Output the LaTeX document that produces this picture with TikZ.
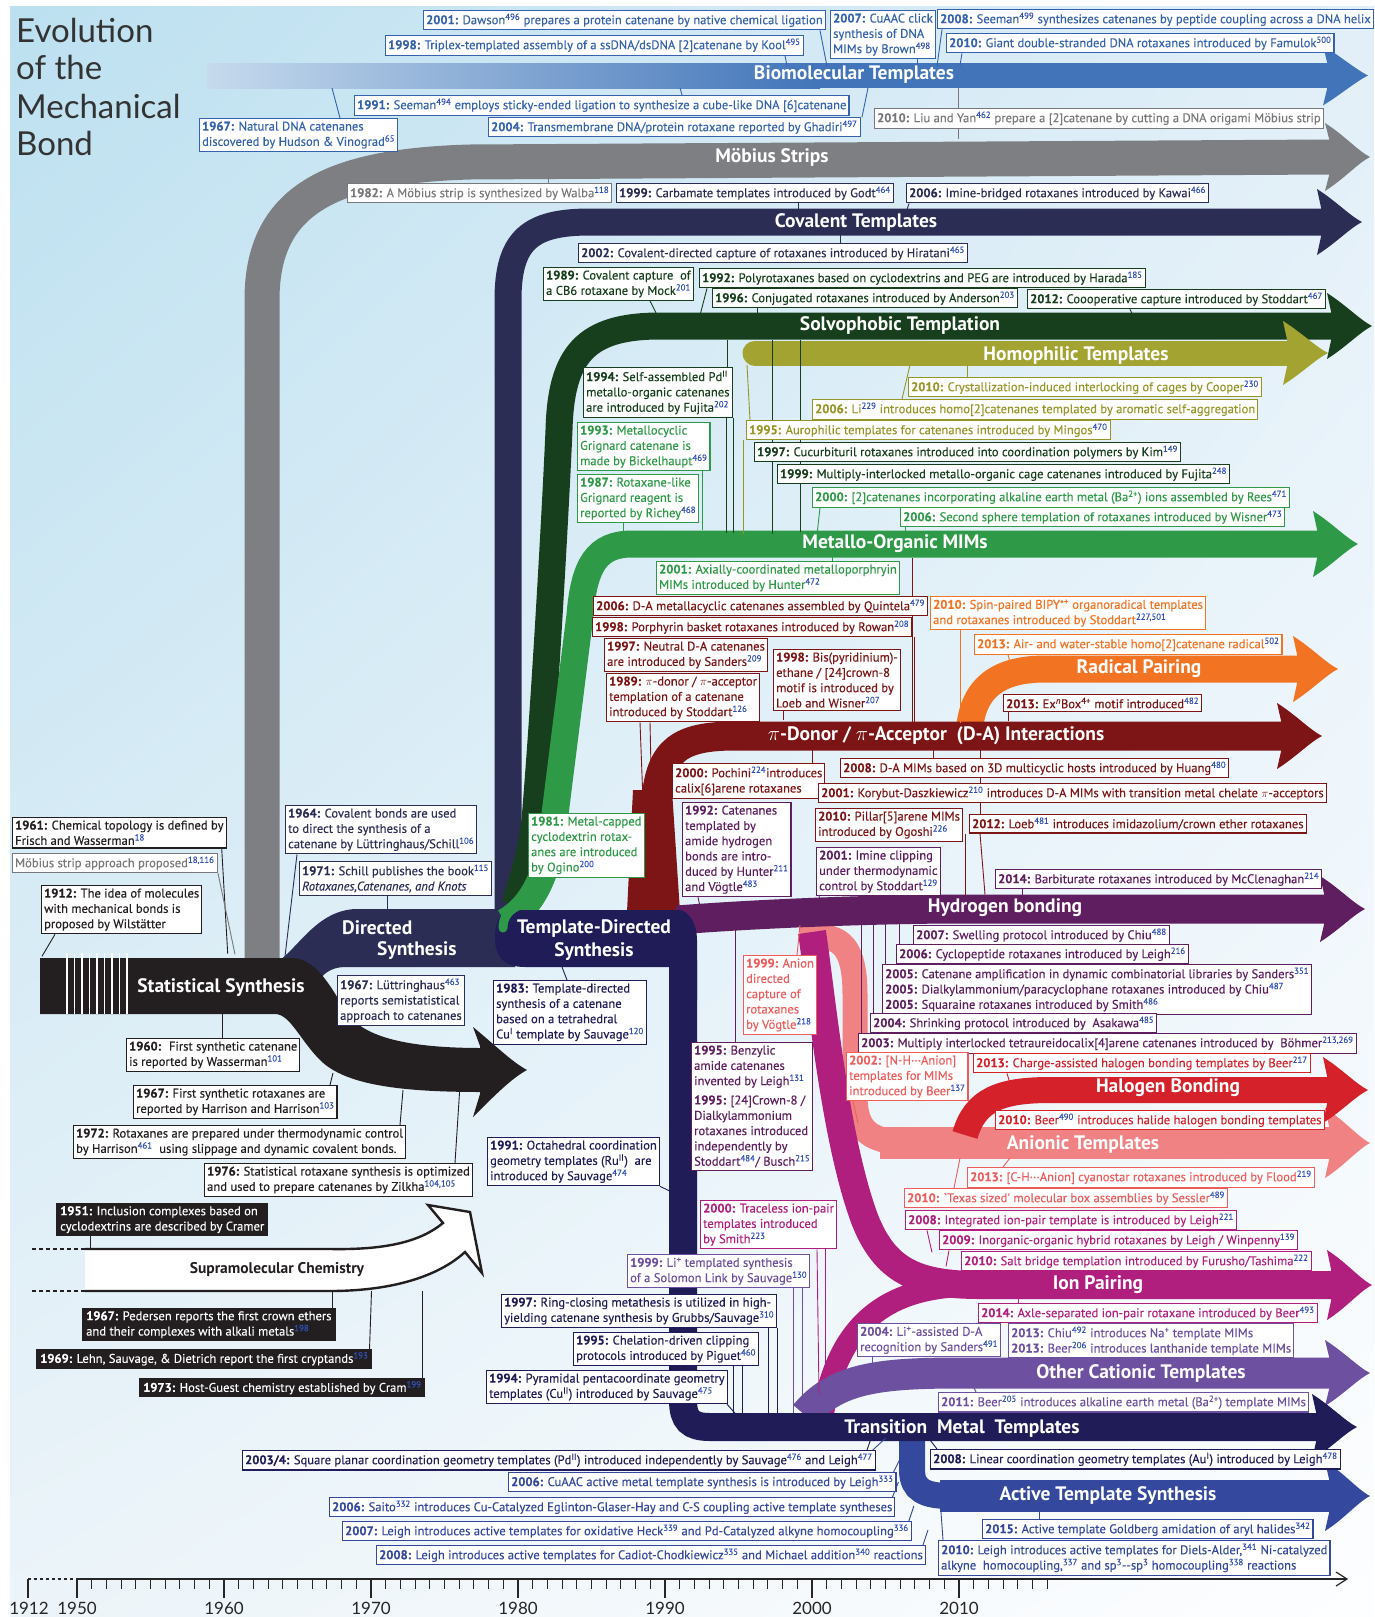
\documentclass[tikz,border=0pt]{standalone}
\usepackage{fontspec}
\setmainfont{PT Sans}
\newfontfamily\lblfam{PT Sans}[FakeBold=0.25]
\newfontfamily\titlefont{Lato}
\usetikzlibrary{calc,shadings}
\definecolor{bgA}{RGB}{188,224,240}
\definecolor{bgB}{RGB}{226,239,248}
\definecolor{bgC}{RGB}{236,244,249}
\definecolor{bgD}{RGB}{253,254,255}
\definecolor{bio}{RGB}{65,116,185}
\definecolor{bioL}{RGB}{198,218,237}
\definecolor{bioT}{RGB}{52,98,172}
\definecolor{mob}{RGB}{126,127,131}
\definecolor{mobT}{RGB}{120,120,124}
\definecolor{cov}{RGB}{43,45,85}
\definecolor{solv}{RGB}{23,63,29}
\definecolor{homo}{RGB}{163,163,50}
\definecolor{homoT}{RGB}{150,150,40}
\definecolor{met}{RGB}{46,154,72}
\definecolor{da}{RGB}{125,20,22}
\definecolor{rad}{RGB}{242,115,33}
\definecolor{hb}{RGB}{95,30,95}
\definecolor{hal}{RGB}{212,33,42}
\definecolor{an}{RGB}{240,130,131}
\definecolor{anT}{RGB}{238,92,92}
\definecolor{ion}{RGB}{176,31,126}
\definecolor{oc}{RGB}{109,80,160}
\definecolor{tm}{RGB}{31,28,88}
\definecolor{act}{RGB}{52,72,157}
\definecolor{statc}{RGB}{35,31,32}
\definecolor{refc}{RGB}{50,80,185}
\newcommand\lf{\lblfam\fontsize{12.6}{15.3}\selectfont}
\newcommand\bandf{\bfseries\fontsize{19.5}{23}\selectfont}
\newcommand\yr[1]{\textbf{#1:}}
\newcommand\rf[1]{\textsuperscript{\color{refc}#1}}
\newcommand\ahead[5]{\fill[#1] ({#2-41},{#3-#4}) -- ({#2-45},{#3-#5}) .. controls ({#2-26},{#3-#5+12}) and ({#2-12},{#3-6}) .. (#2,#3) .. controls ({#2-12},{#3+6}) and ({#2-26},{#3+#5-12}) .. ({#2-45},{#3+#5}) -- ({#2-41},{#3+#4}) -- cycle;}
\newcommand\tail[4]{\draw[tl=#1] ([xshift=#3pt]#2) -- ++#4;}
\pgfdeclarelayer{bandlayer}
\pgfdeclarelayer{taillayer}
\pgfsetlayers{bandlayer,taillayer,main}
\tikzset{
  lbl/.style={draw=#1, text=#1, fill=white, line width=1.1pt, inner xsep=2.6pt, inner ysep=3pt, align=left, anchor=north west, font=\lf},
  blk/.style={fill=statc, text=white, inner xsep=4pt, inner ysep=3pt, align=left, anchor=north west, font=\lf},
  tl/.style={draw=#1, line width=0.9pt},
  bandtxt/.style={text=white, font=\bandf, inner sep=0pt},
}
\begin{document}
\begin{tikzpicture}[x=1pt,y=-1pt]
\useasboundingbox (0,0) rectangle (1374,1617);
\begin{pgfonlayer}{bandlayer}
\fill[white] (0,0) rectangle (1374,1617);
\shade[upper left=bgA, upper right=bgB, lower left=bgC, lower right=bgD] (10,6) rectangle (1374,1617);
% Biomolecular
\shade[left color=bioL, right color=bio] (207,63) rectangle (820,88);
\fill[bio] (819,63) rectangle (1328,88);
\ahead{bio}{1368}{75.5}{13.5}{30}
% Mobius
\draw[mob, line width=35] (262,960) -- (262,300) .. controls (262,200) and (330,166) .. (470,162) -- (1330,157);
\ahead{mob}{1370}{157}{18.5}{34}
% Directed synthesis
\fill[cov] (280,960) .. controls (300,945) and (318,911) .. (355,909) -- (515,909) -- (515,967) -- (345,967) .. controls (330,967) and (322,975) .. (315,985) -- cycle;
% Statistical
\fill[statc] (40,958) -- (292,958) .. controls (315,958) and (330,985) .. (345,1010) .. controls (360,1035) and (400,1048) .. (482,1048) -- (482,1092) .. controls (400,1092) and (345,1085) .. (320,1060) .. controls (300,1040) and (290,1014) .. (275,1014) -- (40,1014) -- cycle;
\fill[statc] (480,1046) -- (473,1027) .. controls (495,1045) and (512,1062) .. (527,1070) .. controls (512,1078) and (495,1095) .. (473,1117) -- (480,1094) -- cycle;
\foreach \x in {67,74.5,82,89.5,97,104.5,112,119.5,127} \draw[white, line width=1.6] (\x,953) -- (\x,1014);
% Covalent
\draw[cov, line width=27] (508,935) -- (508,300) .. controls (508,240) and (530,222) .. (590,222) -- (1322,222);
\ahead{cov}{1362}{222}{14.5}{33}
% Solvophobic
\draw[solv, line width=27] (515,905) .. controls (522,880) and (530,860) .. (535,820) .. controls (545,700) and (556,500) .. (559,430) .. controls (561,355) and (585,326) .. (660,326) -- (1332,326);
\ahead{solv}{1372}{326}{14.5}{33}
% Homophilic
\draw[homo, line width=25, line cap=round] (755,353) -- (1290,353);
\ahead{homo}{1328}{353}{13.5}{32}
% Metallo-organic
\draw[met, line width=27] (505,922) .. controls (535,905) and (548,870) .. (553,830) -- (580,615) .. controls (584,565) and (597,544) .. (632,544) -- (1318,544);
\ahead{met}{1358}{544}{14.5}{33}
% Radical (drawn under D-A)
\draw[rad, line width=27] (969,735) .. controls (971,695) and (990,669) .. (1045,669) -- (1298,669);
\ahead{rad}{1338}{669}{14.5}{33}
% D-A
\fill[da] (627,912) -- (633,790) -- (672,790) -- (680,912) -- cycle;
\draw[da, line width=29] (650,915) -- (656,800) .. controls (660,750) and (680,736) .. (735,736) -- (1282,736);
\ahead{da}{1322}{736}{15.5}{33}
% Anionic
\draw[an, line width=25] (800,937) -- (822,937) .. controls (848,938) and (855,960) .. (855,995) -- (855,1095) .. controls (855,1132) and (870,1143) .. (915,1143);
\fill[an] (880,1127) rectangle (1330,1159);
\ahead{an}{1370}{1143}{17}{35}
% Ion pairing
\draw[ion, line width=28] (812,932) .. controls (822,1000) and (835,1140) .. (865,1220) .. controls (885,1270) and (915,1285) .. (980,1285) -- (1332,1285);
\draw[ion, line width=22] (822,1420) .. controls (835,1330) and (880,1290) .. (960,1286);
\ahead{ion}{1372}{1285}{16}{35}
% Hydrogen bonding
\draw[hb, line width=29] (677,920) .. controls (780,912) and (900,909) .. (960,909) -- (1325,909);
\ahead{hb}{1365}{909}{15.5}{33}
% Halogen
\draw[hal, line width=26] (965,1135) .. controls (975,1100) and (1000,1090) .. (1050,1090) -- (1328,1090);
\ahead{hal}{1368}{1090}{14}{33}
% Other cationic
\draw[oc, line width=31] (805,1415) .. controls (835,1378) and (880,1373) .. (960,1373) -- (1330,1373);
\ahead{oc}{1370}{1373}{16.5}{33}
% Active template
\draw[act, line width=26] (912,1435) -- (912,1470) .. controls (912,1490) and (925,1496) .. (950,1496);
\fill[act] (940,1480) rectangle (1330,1512);
\ahead{act}{1370}{1496}{17}{35}
% Transition metal
\draw[tm, line width=28] (683,960) -- (683,1400) .. controls (683,1420) and (690,1427) .. (710,1427) -- (1318,1427);
\ahead{tm}{1357}{1427}{15}{33}
% Template-directed blob
\fill[tm] (680,910) -- (520,910) .. controls (500,910) and (495,920) .. (495,938) .. controls (495,958) and (505,967) .. (525,967) -- (670,967) -- (670,1000) -- (697,1000) -- (697,940) .. controls (697,925) and (690,912) .. (680,910) -- cycle;
\draw[met, line width=9, line cap=round] (520,905) .. controls (508,910) and (503,918) .. (503,928);
% Supramolecular
\draw[statc, line width=2.4, fill=white, line join=miter] (85,1249) -- (330,1249) .. controls (385,1250) and (420,1242) .. (443,1223) -- (428,1205) -- (470,1212) -- (482,1273) -- (465,1252) .. controls (440,1275) and (395,1291) .. (330,1291) -- (85,1291);
\draw[statc, line width=2.5, dash pattern=on 4pt off 3pt] (32,1249) -- (85,1249);
\draw[statc, line width=2.5, dash pattern=on 4pt off 3pt] (32,1291) -- (85,1291);
% Axis
\draw[line width=1.2, black!85] (77,1579) -- (1347,1579);
\draw[line width=1.2, black!85, dashed] (28,1579) -- (77,1579);
\draw[line width=1.2, black!85] (1336,1572) -- (1347,1579) -- (1336,1586);
\foreach \yy in {1951,...,2016} \draw[line width=1, black!85] ({77+(\yy-1950)*14.7},1579) -- ++(0,10);
\foreach \yy in {1950,1960,...,2010} \draw[line width=2.4, black!85] ({77+(\yy-1950)*14.7},1579) -- ++(0,19);
\draw[line width=2.4, black!85] (28,1579) -- (28,1598);
\end{pgfonlayer}
% axis labels
\foreach \yy in {1950,1960,...,2010} \node[font=\titlefont\fontsize{17}{17}\selectfont, text=black!85, inner sep=0] (ax\yy) at ({77+(\yy-1950)*14.7},1608) {\yy};
\node[font=\titlefont\fontsize{17}{17}\selectfont, text=black!85, inner sep=0] (ax1912) at (29,1608) {1912};
% Title
\node[anchor=base west, font=\titlefont\fontsize{33}{38}\selectfont, text=black!80, inner sep=0] (ti1) at (16,42) {Evolution};
\node[anchor=base west, font=\titlefont\fontsize{33}{38}\selectfont, text=black!80, inner sep=0] (ti2) at (16,79) {of the};
\node[anchor=base west, font=\titlefont\fontsize{33}{38}\selectfont, text=black!80, inner sep=0] (ti3) at (16,118) {Mechanical};
\node[anchor=base west, font=\titlefont\fontsize{33}{38}\selectfont, text=black!80, inner sep=0] (ti4) at (16,155) {Bond};
% Band texts
\node[bandtxt] (nbio) at (854,75) {Biomolecular Templates};
\node[bandtxt] (nmob) at (772,157) {Möbius Strips};
\node[bandtxt] (ncov) at (856,222) {Covalent Templates};
\node[bandtxt] (nsolv) at (900,325) {Solvophobic Templation};
\node[bandtxt] (nhomo) at (1076,356) {Homophilic Templates};
\node[bandtxt] (nmet) at (895,544) {Metallo-Organic MIMs};
\node[bandtxt] (nrad) at (1139,669) {Radical Pairing};
\node[bandtxt] (nda) at (936,736) {$\pi$-Donor / $\pi$-Acceptor~ (D-A) Interactions};
\node[bandtxt] (nhb) at (1005,908) {Hydrogen bonding};
\node[bandtxt] (nhal) at (1168,1088) {Halogen Bonding};
\node[bandtxt] (nan) at (1083,1145) {Anionic Templates};
\node[bandtxt] (nion) at (1098,1285) {Ion Pairing};
\node[bandtxt] (noc) at (1141,1373) {Other Cationic Templates};
\node[bandtxt] (ntm) at (962,1428) {Transition~ Metal~ Templates};
\node[bandtxt] (nact) at (1108,1496) {Active Template Synthesis};
\node[bandtxt] (nstat) at (221,988) {Statistical Synthesis};
\node[bandtxt, anchor=west] (ndir1) at (342,928) {Directed};
\node[bandtxt, anchor=west] (ndir2) at (377,951) {Synthesis};
\node[bandtxt, align=center, font=\bfseries\fontsize{19.5}{23}\selectfont] (ntds) at (594,940) {Template-Directed\\Synthesis};
\node[font=\bfseries\fontsize{15.5}{18}\selectfont, text=statc, inner sep=0] (nsup) at (277,1270) {Supramolecular Chemistry};
% ---------- Labels ----------
\node[lbl=bioT] (b2001) at (423,10) {\yr{2001} Dawson\rf{496} prepares a protein catenane by native chemical ligation};
\node[lbl=bioT] (b1998) at (385,35) {\yr{1998} Triplex-templated assembly of a ssDNA/dsDNA [2]catenane by Kool\rf{495}};
\node[lbl=bioT] (b2007) at (830,10) {\yr{2007} CuAAC click\\synthesis of DNA\\MIMs by Brown\rf{498}};
\node[lbl=bioT] (b2008) at (937,9) {\yr{2008} Seeman\rf{499} synthesizes catenanes by peptide coupling across a DNA helix};
\node[lbl=bioT] (b2010) at (946,33) {\yr{2010} Giant double-stranded DNA rotaxanes introduced by Famulok\rf{500}};
\node[lbl=bioT] (b1991) at (354,95) {\yr{1991} Seeman\rf{494} employs sticky-ended ligation to synthesize a cube-like DNA [6]catenane};
\node[lbl=bioT] (b1967) at (199,118) {\yr{1967} Natural DNA catenanes\\discovered by Hudson \& Vinograd\rf{65}};
\node[lbl=bioT] (b2004) at (488,117) {\yr{2004} Transmembrane DNA/protein rotaxane reported by Ghadiri\rf{497}};
\node[lbl=mobT] (g2010) at (874,108) {\yr{2010} Liu and Yan\rf{462} prepare a [2]catenane by cutting a DNA origami Möbius strip};
\node[lbl=mobT] (g1982) at (347,183) {\yr{1982} A Möbius strip is synthesized by Walba\rf{118}};
\node[lbl=cov] (c1999) at (616,183) {\yr{1999} Carbamate templates introduced by Godt\rf{464}};
\node[lbl=cov] (c2006) at (906,183) {\yr{2006} Imine-bridged rotaxanes introduced by Kawai\rf{466}};
\node[lbl=cov] (c2002) at (578,243) {\yr{2002} Covalent-directed capture of rotaxanes introduced by Hiratani\rf{465}};
\node[lbl=cov] (c1964) at (285,805) {\yr{1964} Covalent bonds are used\\to direct the synthesis of a\\catenane by Lüttringhaus/Schill\rf{106}};
\node[lbl=cov] (c1971) at (299,861) {\yr{1971} Schill publishes the book\rf{115}\\\textit{Rotaxanes,Catenanes, and Knots}};
\node[lbl=cov] (c1967) at (337,975) {\yr{1967} Lüttringhaus\rf{463}\\reports semistatistical\\approach to catenanes};
\node[lbl=solv] (s1989) at (543,267) {\yr{1989} Covalent capture~ of\\a CB6 rotaxane by Mock\rf{201}};
\node[lbl=solv] (s1992) at (699,268) {\yr{1992} Polyrotaxanes based on cyclodextrins and PEG are introduced by Harada\rf{185}};
\node[lbl=solv] (s1996) at (712,288) {\yr{1996} Conjugated rotaxanes introduced by Anderson\rf{203}};
\node[lbl=solv] (s2012) at (1027,289) {\yr{2012} Coooperative capture introduced by Stoddart\rf{467}};
\node[lbl=solv] (s1994) at (583,367) {\yr{1994} Self-assembled Pd\textsuperscript{II}\\metallo-organic catenanes\\are introduced by Fujita\rf{202}};
\node[lbl=solv] (s1997) at (754,442) {\yr{1997} Cucurbituril rotaxanes introduced into coordination polymers by Kim\rf{149}};
\node[lbl=solv] (s1999) at (777,464) {\yr{1999} Multiply-interlocked metallo-organic cage catenanes introduced by Fujita\rf{248}};
\node[lbl=homoT] (o2010) at (908,377) {\yr{2010} Crystallization-induced interlocking of cages by Cooper\rf{230}};
\node[lbl=homoT] (o2006) at (812,399) {\yr{2006} Li\rf{229} introduces homo[2]catenanes templated by aromatic self-aggregation};
\node[lbl=homoT] (o1995) at (746,420) {\yr{1995} Aurophilic templates for catenanes introduced by Mingos\rf{470}};
\node[lbl=met] (m1993) at (577,422) {\yr{1993} Metallocyclic\\Grignard catenane is\\made by Bickelhaupt\rf{469}};
\node[lbl=met] (m1987) at (577,474) {\yr{1987} Rotaxane-like\\Grignard reagent is\\reported by Richey\rf{468}};
\node[lbl=met] (m2000) at (812,487) {\yr{2000} [2]catenanes incorporating alkaline earth metal (Ba\textsuperscript{2+}) ions assembled by Rees\rf{471}};
\node[lbl=met] (m2006) at (900,507) {\yr{2006} Second sphere templation of rotaxanes introduced by Wisner\rf{473}};
\node[lbl=met] (m2001) at (656,561) {\yr{2001} Axially-coordinated metalloporphryin\\MIMs introduced by Hunter\rf{472}};
\node[lbl=met] (m1981) at (528,813) {\yr{1981} Metal-capped\\cyclodextrin rotax-\\anes are introduced\\by Ogino\rf{200}};
\node[lbl=da] (d2006) at (593,596) {\yr{2006} D-A metallacyclic catenanes assembled by Quintela\rf{479}};
\node[lbl=da] (d1998a) at (592,617) {\yr{1998} Porphyrin basket rotaxanes introduced by Rowan\rf{208}};
\node[lbl=da] (d1997) at (604,638) {\yr{1997} Neutral D-A catenanes\\are introduced by Sanders\rf{209}};
\node[lbl=da] (d1989) at (606,673) {\yr{1989} $\pi$-donor / $\pi$-acceptor\\templation of a catenane\\introduced by Stoddart\rf{126}};
\node[lbl=da] (d1998b) at (773,649) {\yr{1998} Bis(pyridinium)-\\ethane / [24]crown-8\\motif is introduced by\\Loeb and Wisner\rf{207}};
\node[lbl=da] (d2013) at (1003,694) {\yr{2013} Ex\textsuperscript{\textit{n}}Box\textsuperscript{4+} motif introduced\rf{482}};
\node[lbl=da] (d2000) at (672,763) {\yr{2000} Pochini\rf{224}introduces\\calix[6]arene rotaxanes};
\node[lbl=da] (d2008) at (840,758) {\yr{2008} D-A MIMs based on 3D multicyclic hosts introduced by Huang\rf{480}};
\node[lbl=da] (d2001) at (818,783) {\yr{2001} Korybut-Daszkiewicz\rf{210} introduces D-A MIMs with transition metal chelate $\pi$-acceptors};
\node[lbl=da] (d2010) at (815,808) {\yr{2010} Pillar[5]arene MIMs\\introduced by Ogoshi\rf{226}};
\node[lbl=da] (d2012) at (969,814) {\yr{2012} Loeb\rf{481} introduces imidazolium/crown ether rotaxanes};
\node[lbl=rad] (r2010) at (930,596) {\yr{2010} Spin-paired BIPY\textsuperscript{\textbullet+} organoradical templates\\and rotaxanes introduced by Stoddart\rf{227,501}};
\node[lbl=rad] (r2013) at (974,634) {\yr{2013} Air- and water-stable homo[2]catenane radical\rf{502}};
\node[lbl=hb] (h1992) at (682,802) {\yr{1992} Catenanes\\templated by\\amide hydrogen\\bonds are intro-\\duced by Hunter\rf{211}\\and Vögtle\rf{483}};
\node[lbl=hb] (h2001) at (816,847) {\yr{2001} Imine clipping\\under thermodynamic\\control by Stoddart\rf{129}};
\node[lbl=hb] (h2014) at (995,869) {\yr{2014} Barbiturate rotaxanes introduced by McClenaghan\rf{214}};
\node[lbl=hb] (h2007) at (913,925) {\yr{2007} Swelling protocol introduced by Chiu\rf{488}};
\node[lbl=hb] (h2006) at (896,944) {\yr{2006} Cyclopeptide rotaxanes introduced by Leigh\rf{216}};
\node[lbl=hb] (h2005) at (882,964) {\yr{2005} Catenane amplification in dynamic combinatorial libraries by Sanders\rf{351}\\\yr{2005} Dialkylammonium/paracyclophane rotaxanes introduced by Chiu\rf{487}\\\yr{2005} Squaraine rotaxanes introduced by Smith\rf{486}};
\node[lbl=hb] (h2004) at (870,1013) {\yr{2004} Shrinking protocol introduced by~ Asakawa\rf{485}};
\node[lbl=hb] (h2003) at (858,1033) {\yr{2003} Multiply interlocked tetraureidocalix[4]arene catenanes introduced by~ Böhmer\rf{213,269}};
\node[lbl=hb] (h1995) at (691,1042) {\yr{1995} Benzylic\\amide catenanes\\invented by Leigh\rf{131}\\[4pt]\yr{1995} [24]Crown-8 /\\Dialkylammonium\\rotaxanes introduced\\independently by\\Stoddart\rf{484}/ Busch\rf{215}};
\node[lbl=anT] (a1999) at (743,955) {\yr{1999} Anion\\directed\\capture of\\rotaxanes\\by Vögtle\rf{218}};
\node[lbl=anT] (a2002) at (846,1052) {\yr{2002} [N-H···Anion]\\templates for MIMs\\introduced by Beer\rf{137}};
\node[lbl=anT] (a2013) at (967,1167) {\yr{2013} [C-H···Anion] cyanostar rotaxanes introduced by Flood\rf{219}};
\node[lbl=anT] (a2010) at (904,1188) {\yr{2010} `Texas sized' molecular box assemblies by Sessler\rf{489}};
\node[lbl=hal] (x2013) at (973,1053) {\yr{2013} Charge-assisted halogen bonding templates by Beer\rf{217}};
\node[lbl=hal] (x2010) at (995,1110) {\yr{2010} Beer\rf{490} introduces halide halogen bonding templates};
\node[lbl=ion] (i2000) at (700,1200) {\yr{2000} Traceless ion-pair\\templates introduced\\by Smith\rf{223}};
\node[lbl=ion] (i2008) at (905,1210) {\yr{2008} Integrated ion-pair template is introduced by Leigh\rf{221}};
\node[lbl=ion] (i2009) at (939,1230) {\yr{2009} Inorganic-organic hybrid rotaxanes by Leigh / Winpenny\rf{139}};
\node[lbl=ion] (i2010) at (961,1251) {\yr{2010} Salt bridge templation introduced by Furusho/Tashima\rf{222}};
\node[lbl=ion] (i2014) at (978,1303) {\yr{2014} Axle-separated ion-pair rotaxane introduced by Beer\rf{493}};
\node[lbl=oc] (q1999) at (627,1254) {\yr{1999} Li\textsuperscript{+} templated synthesis\\of a Solomon Link by Sauvage\rf{130}};
\node[lbl=oc] (q2004) at (857,1323) {\yr{2004} Li\textsuperscript{+}-assisted D-A\\recognition by Sanders\rf{491}};
\node[lbl=oc] (q2013) at (1008,1323) {\yr{2013} Chiu\rf{492} introduces Na\textsuperscript{+} template MIMs\\\yr{2013} Beer\rf{206} introduces lanthanide template MIMs};
\node[lbl=oc] (q2011) at (938,1392) {\yr{2011} Beer\rf{205} introduces alkaline earth metal (Ba\textsuperscript{2+}) template MIMs};
\node[lbl=tm] (t1983) at (493,980) {\yr{1983} Template-directed\\synthesis of a catenane\\based on a tetrahedral\\Cu\textsuperscript{I} template by Sauvage\rf{120}};
\node[lbl=tm] (t1991) at (487,1137) {\yr{1991} Octahedral coordination\\geometry templates (Ru\textsuperscript{II})~ are\\introduced by Sauvage\rf{474}};
\node[lbl=tm] (t1997) at (501,1294) {\yr{1997} Ring-closing metathesis is utilized in high-\\yielding catenane synthesis by Grubbs/Sauvage\rf{310}};
\node[lbl=tm] (t1995) at (573,1332) {\yr{1995} Chelation-driven clipping\\protocols introduced by Piguet\rf{460}};
\node[lbl=tm] (t1994) at (486,1370) {\yr{1994} Pyramidal pentacoordinate geometry\\templates (Cu\textsuperscript{II}) introduced by Sauvage\rf{475}};
\node[lbl=tm] (t2003) at (242,1450) {\yr{2003/4} Square planar coordination geometry templates (Pd\textsuperscript{II}) introduced independently by Sauvage\rf{476} and Leigh\rf{477}};
\node[lbl=tm] (t2008) at (930,1449) {\yr{2008} Linear coordination geometry templates (Au\textsuperscript{I}) introduced by Leigh\rf{478}};
\node[lbl=act] (v2006a) at (508,1472) {\yr{2006} CuAAC active metal template synthesis is introduced by Leigh\rf{333}};
\node[lbl=act] (v2006b) at (329,1497) {\yr{2006} Saito\rf{332} introduces Cu-Catalyzed Eglinton-Glaser-Hay and C-S coupling active template syntheses};
\node[lbl=act] (v2007) at (342,1521) {\yr{2007} Leigh introduces active templates for oxidative Heck\rf{339} and Pd-Catalyzed alkyne homocoupling\rf{336}};
\node[lbl=act] (v2008) at (376,1545) {\yr{2008} Leigh introduces active templates for Cadiot-Chodkiewicz\rf{335} and Michael addition\rf{340} reactions};
\node[lbl=act] (v2015) at (982,1519) {\yr{2015} Active template Goldberg amidation of aryl halides\rf{342}};
\node[lbl=act] (v2010) at (938,1540) {\yr{2010} Leigh introduces active templates for Diels-Alder,\rf{341} Ni-catalyzed\\alkyne~ homocoupling,\rf{337} and sp\textsuperscript{3}--sp\textsuperscript{3} homocoupling\rf{338} reactions};
\node[lbl=statc] (k1961) at (12,817) {\yr{1961} Chemical topology is defined by\\Frisch and Wasserman\rf{18}};
\node[lbl=mobT] (gapp) at (12,853) {Möbius strip approach proposed\rf{18,116}};
\node[lbl=statc] (k1912) at (41,885) {\yr{1912} The idea of molecules\\with mechanical bonds is\\proposed by Wilstätter};
\node[lbl=statc] (k1960) at (126,1038) {\yr{1960}~ First synthetic catenane\\is reported by Wasserman\rf{101}};
\node[lbl=statc] (k1967) at (133,1085) {\yr{1967} First synthetic rotaxanes are\\reported by Harrison and Harrison\rf{103}};
\node[lbl=statc] (k1972) at (73,1125) {\yr{1972} Rotaxanes are prepared under thermodynamic control\\by Harrison\rf{461}~ using slippage and dynamic covalent bonds.};
\node[lbl=statc] (k1976) at (204,1163) {\yr{1976} Statistical rotaxane synthesis is optimized\\and used to prepare catenanes by Zilkha\rf{104,105}};
\node[blk] (u1951) at (56,1203) {\yr{1951} Inclusion complexes based on\\cyclodextrins are described by Cramer};
\node[blk] (u1967) at (82,1308) {\yr{1967} Pedersen reports the first crown ethers\\and their complexes with alkali metals\rf{198}};
\node[blk] (u1969) at (36,1349) {\yr{1969} Lehn, Sauvage, \& Dietrich report the first cryptands\rf{193}};
\node[blk] (u1973) at (139,1378) {\yr{1973} Host-Guest chemistry established by Cram\rf{199}};
% ---------- Tails ----------
\begin{pgfonlayer}{taillayer}
\tail{bioT}{b2001.south west}{397}{(7,36)}
\tail{bioT}{b1998.south west}{400}{(2,10)}
\tail{bioT}{b2007.south west}{87}{(0,8)}
\tail{bioT}{b2008.south west}{5}{(-5,37)}
\tail{bioT}{b2010.south west}{16}{(-2,12)}
\tail{bioT}{b1991.north west}{328}{(-2,-7)}
\tail{bioT}{b1967.north west}{141}{(-8,-30)}
\tail{bioT}{b2004.north west}{374}{(6,-29)}
\tail{mobT}{g2010.north west}{84}{(0,-20)}
\tail{mobT}{g2010.south west}{84}{(0,10)}
\tail{mobT}{g1982.north west}{201}{(0,-6)}
\tail{statc}{k1961.south east}{-5}{(6,105)}
\tail{mobT}{gapp.south west}{206}{(17,81)}
\tail{cov}{c1999.south west}{182}{(0,9)}
\tail{cov}{c2006.south west}{3}{(-3,9)}
\tail{cov}{c2002.north west}{262}{(0,-8)}
\tail{cov}{c1964.south west}{12}{(-12,102)}
\tail{cov}{c1971.south west}{88}{(0,13)}
\tail{solv}{s1989.south west}{107}{(6,12)}
\tail{solv}{s1992.south west}{8}{(-7,27)}
\tail{solv}{s1996.south west}{45}{(0,6)}
\tail{solv}{s2012.south west}{103}{(3,6)}
\tail{solv}{s1994.north west}{144}{(0,-27)}
\tail{solv}{s1994.south west}{143}{(0,115)}
\tail{solv}{s1994.south west}{150}{(0,115)}
\tail{solv}{s1997.north west}{18}{(0,-102)}
\tail{solv}{s1997.south west}{18}{(0,72)}
\tail{solv}{s1999.north west}{23}{(0,-124)}
\tail{solv}{s1999.south west}{23}{(0,48)}
\tail{homoT}{o2010.north west}{59}{(0,-12)}
\tail{homoT}{o2006.north west}{90}{(8,-34)}
\tail{homoT}{o1995.north west}{4}{(-3,-55)}
\tail{homoT}{o1995.south west}{-3}{(0,94)}
\tail{met}{m1987.south west}{46}{(0,8)}
\tail{met}{m1993.south east}{-8}{(0,59)}
\tail{met}{m2000.south west}{8}{(-3,27)}
\tail{met}{m2006.south west}{5}{(0,6)}
\tail{met}{m2001.north west}{176}{(0,-6)}
\tail{met}{m1981.south west}{9}{(0,27)}
\tail{da}{d2006.north east}{-16}{(0,-38)}
\tail{da}{d2006.south east}{-16}{(0,109)}
\tail{da}{d1998a.south east}{2}{(0,88)}
\tail{da}{d1989.south west}{34}{(7,184)}
\tail{da}{d1989.south west}{44}{(4,184)}
\tail{da}{d1998b.south west}{10}{(0,9)}
\tail{da}{d2013.south west}{5}{(0,9)}
\tail{da}{d2000.north west}{140}{(0,-13)}
\tail{da}{d2008.north west}{93}{(0,-8)}
\tail{da}{d2012.north west}{11}{(0,-64)}
\tail{da}{d2012.south west}{11}{(5,61)}
\tail{da}{d2012.south west}{-4}{(0,61)}
\tail{rad}{r2010.south west}{30}{(0,93)}
\tail{rad}{r2013.south west}{34}{(2,8)}
\tail{hb}{h1992.south west}{16}{(2,9)}
\tail{hb}{h2001.south west}{3}{(5,10)}
\tail{hb}{h2014.south west}{27}{(0,7)}
\tail{hb}{h2006.north west}{3}{(0,-21)}
\tail{hb}{h2005.north west}{3}{(0,-41)}
\tail{hb}{h2004.north west}{3}{(0,-90)}
\tail{hb}{h2003.north west}{3}{(0,-110)}
\tail{hb}{h1995.north west}{44}{(0,-119)}
\tail{anT}{a1999.north west}{54}{(3,-30)}
\tail{anT}{a2002.south west}{7}{(5,22)}
\tail{anT}{a2013.north west}{36}{(7,-9)}
\tail{anT}{a2010.north west}{50}{(6,-30)}
\tail{hal}{x2013.south west}{34}{(3,10)}
\tail{ion}{i2000.south west}{117}{(2,145)}
\tail{ion}{i2000.south west}{125}{(0,130)}
\tail{ion}{i2008.south west}{22}{(5,22)}
\tail{ion}{i2009.south west}{10}{(-3,16)}
\tail{ion}{i2010.south west}{12}{(-2,8)}
\tail{ion}{i2014.north west}{40}{(0,-9)}
\tail{oc}{q1999.south west}{166}{(0,125)}
\tail{oc}{q1999.south west}{175}{(0,125)}
\tail{oc}{q2004.south west}{15}{(0,10)}
\tail{oc}{q2013.south west}{5}{(0,6)}
\tail{oc}{q2011.north west}{38}{(-5,-10)}
\tail{tm}{t1983.north west}{74}{(-5,-13)}
\tail{tm}{t1991.south east}{0}{(17,8)}
\tail{tm}{t1997.south west}{267}{(0,85)}
\tail{tm}{t1997.south west}{276}{(0,85)}
\tail{tm}{t1995.south west}{160}{(0,48)}
\tail{tm}{t1995.south west}{169}{(0,48)}
\tail{tm}{t1994.south west}{241}{(8,9)}
\tail{tm}{t2003.north west}{625}{(8,-23)}
\tail{tm}{t2008.north west}{7}{(-7,-9)}
\tail{act}{t2003.north east}{-3}{(13,-12)}
\tail{act}{v2006a.north east}{-3}{(6,-12)}
\tail{act}{v2006b.north east}{-3}{(6,-15)}
\tail{act}{v2007.north east}{-3}{(5,-15)}
\tail{act}{v2008.north east}{-3}{(5,-15)}
\tail{act}{v2015.north west}{57}{(0,-7)}
\tail{act}{v2010.north west}{5}{(-2,-28)}
\tail{statc}{k1912.south west}{14}{(-13,22)}
\tail{statc}{k1960.north west}{96}{(0,-24)}
\tail{statc}{k1967.north west}{197}{(3,-12)}
\tail{statc}{k1972.north west}{327}{(3,-35)}
\tail{statc}{k1976.north west}{251}{(5,-78)}
\tail{statc}{u1951.south west}{34}{(0,14)}
\tail{statc}{u1967.north east}{-3}{(0,-17)}
\tail{statc}{u1969.north east}{-3}{(2,-58)}
\tail{statc}{u1973.north east}{-3}{(0,-87)}
\end{pgfonlayer}
\end{tikzpicture}
\end{document}
